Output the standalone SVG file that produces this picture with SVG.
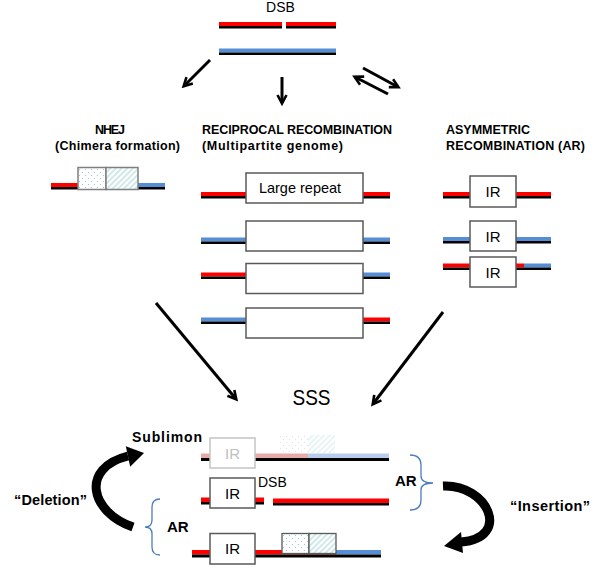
<svg xmlns="http://www.w3.org/2000/svg" width="600" height="574" viewBox="0 0 600 574">
<style>
.r{fill:#ff0000}.b{fill:#558ed5}.k{fill:#000}
.pr{fill:#e8a9a9}.pb{fill:#b8cdec}
.box{fill:#fff;stroke:#595959;stroke-width:1.5}
.h{font-family:"Liberation Sans",Arial,sans-serif;font-weight:bold;font-size:12.5px;fill:#000}
.t{font-family:"Liberation Sans",Arial,sans-serif;fill:#000}
.ir{font-family:"Liberation Sans",Arial,sans-serif;font-size:15px;fill:#000;text-anchor:middle}
.bl{font-family:"Liberation Sans",Arial,sans-serif;font-weight:bold;fill:#000}
.arr{fill:none;stroke:#000;stroke-width:3;marker-end:url(#ah)}
.brk{fill:none;stroke:#4a7ebb;stroke-width:1.3}
</style>
<defs>
<marker id="ah" viewBox="0 0 12 12" refX="9" refY="6" markerWidth="12" markerHeight="12" orient="auto" markerUnits="userSpaceOnUse">
<path d="M1,1.5 L9.5,6 L1,10.5" fill="none" stroke="#000" stroke-width="2.6"/>
</marker>
<pattern id="dots" width="6" height="6" patternUnits="userSpaceOnUse">
<rect width="6" height="6" fill="#fff"/>
<circle cx="1.5" cy="1.5" r="0.6" fill="#8fc4c8"/>
<circle cx="4.5" cy="4.5" r="0.6" fill="#8fc4c8"/>
</pattern>
<pattern id="hatch" width="4" height="4" patternUnits="userSpaceOnUse" patternTransform="rotate(45)">
<rect width="4" height="4" fill="#fff"/>
<line x1="1" y1="0" x2="1" y2="4" stroke="#9fd2d4" stroke-width="1"/>
</pattern>
</defs>
<rect width="600" height="574" fill="#fff"/>

<g id="dsb-top">
<text class="t" x="280.5" y="12" text-anchor="middle" font-size="14">DSB</text>
<rect class="r" x="219" y="22" width="63" height="4"/><rect class="k" x="219" y="26" width="63" height="2.5"/>
<rect class="r" x="286" y="22" width="50" height="4"/><rect class="k" x="286" y="26" width="50" height="2.5"/>
<rect class="b" x="219" y="48.5" width="117" height="4"/><rect class="k" x="219" y="52.5" width="117" height="2.5"/>
</g>

<g id="nhej">
<text class="h" x="110" y="134" text-anchor="middle" textLength="30">NHEJ</text>
<text class="h" x="117.5" y="150" text-anchor="middle" textLength="125">(Chimera formation)</text>
<rect class="r" x="51" y="183" width="27" height="4"/>
<rect class="b" x="138" y="183" width="27" height="4"/>
<rect class="k" x="51" y="187" width="114" height="2.5"/>
<rect x="78" y="167.5" width="28" height="22" fill="url(#dots)" stroke="#7f7f7f" stroke-width="1.5"/>
<rect x="106" y="167.5" width="32" height="22" fill="url(#hatch)" stroke="#7f7f7f" stroke-width="1.5"/>
</g>

<g id="reciprocal">
<text class="h" x="202" y="134" textLength="190">RECIPROCAL RECOMBINATION</text>
<text class="h" x="202" y="150" textLength="141">(Multipartite genome)</text>
<rect class="r" x="201" y="192" width="45" height="4"/><rect class="r" x="363" y="192" width="27" height="4"/>
<rect class="k" x="201" y="196" width="189" height="2.5"/>
<rect class="box" x="246" y="173" width="117" height="30"/>
<text class="t" x="300" y="193" text-anchor="middle" font-size="14.5">Large repeat</text>

<rect class="b" x="201" y="237.5" width="45" height="4"/><rect class="b" x="363" y="237.5" width="27" height="4"/>
<rect class="k" x="201" y="241.5" width="189" height="2.5"/>
<rect class="box" x="246" y="221" width="117" height="30"/>

<rect class="r" x="201" y="272.5" width="45" height="4"/><rect class="b" x="363" y="272.5" width="27" height="4"/>
<rect class="k" x="201" y="276.5" width="189" height="2.5"/>
<rect class="box" x="246" y="263.5" width="117" height="30"/>

<rect class="b" x="201" y="317.5" width="45" height="4"/><rect class="r" x="363" y="317.5" width="27" height="4"/>
<rect class="k" x="201" y="321.5" width="189" height="2.5"/>
<rect class="box" x="246" y="308" width="117" height="30"/>
</g>

<g id="asymmetric">
<text class="h" x="446" y="134" textLength="84">ASYMMETRIC</text>
<text class="h" x="446" y="150" textLength="139">RECOMBINATION (AR)</text>
<rect class="r" x="443" y="192" width="27" height="4"/><rect class="r" x="516" y="192" width="35" height="4"/>
<rect class="k" x="443" y="196" width="108" height="2.5"/>
<rect class="box" x="470" y="176" width="46" height="31"/>
<text class="ir" x="493" y="197">IR</text>

<rect class="b" x="443" y="237" width="27" height="4"/><rect class="b" x="516" y="237" width="35" height="4"/>
<rect class="k" x="443" y="241" width="108" height="2.5"/>
<rect class="box" x="470" y="221" width="46" height="30"/>
<text class="ir" x="493" y="242">IR</text>

<rect class="r" x="443" y="263.5" width="27" height="4"/><rect class="r" x="516" y="263.5" width="8" height="4"/><rect class="b" x="524" y="263.5" width="27" height="4"/>
<rect class="k" x="443" y="267.5" width="108" height="2.5"/>
<rect class="box" x="470" y="257" width="46" height="30"/>
<text class="ir" x="493" y="278">IR</text>
</g>

<g id="sss">
<text class="t" x="311.5" y="405" text-anchor="middle" font-size="22" textLength="38" lengthAdjust="spacingAndGlyphs">SSS</text>
</g>

<g id="sublimon">
<text class="bl" x="132" y="442" font-size="14" textLength="70">Sublimon</text>
<rect class="pr" x="201" y="453.5" width="107" height="4.5"/><rect class="pb" x="308" y="453.5" width="81" height="4.5"/>
<rect class="k" x="201" y="458" width="188" height="3"/>
<rect x="210" y="438" width="45" height="30" fill="#fff" stroke="#c4c4c4" stroke-width="1.5"/>
<text class="ir" x="232.5" y="459" style="fill:#bfbfbf">IR</text>
<g opacity="0.45">
<rect x="278" y="435" width="30" height="18" fill="url(#dots)"/>
<rect x="308" y="435" width="27" height="18" fill="url(#hatch)"/>
</g>
</g>

<g id="dsb-strand">
<rect class="r" x="201" y="497.5" width="63" height="4.5"/><rect class="k" x="201" y="502" width="63" height="2.5"/>
<rect class="r" x="273" y="498.5" width="116" height="4.5"/><rect class="k" x="273" y="503" width="116" height="2.5"/>
<rect class="box" x="210" y="478" width="45" height="30"/>
<text class="ir" x="232.5" y="499">IR</text>
<text class="t" x="258" y="487" font-size="14">DSB</text>
</g>

<g id="inserted-strand">
<rect class="r" x="192" y="550" width="144" height="4.5"/><rect class="b" x="336" y="550" width="45" height="4.5"/>
<rect class="k" x="192" y="554.5" width="189" height="3"/>
<rect class="box" x="210" y="533.5" width="45" height="30.5"/>
<text class="ir" x="232.5" y="554">IR</text>
<rect x="282" y="533.5" width="27" height="20" fill="url(#dots)" stroke="#595959" stroke-width="1.3"/>
<rect x="309" y="533.5" width="27" height="20" fill="url(#hatch)" stroke="#595959" stroke-width="1.3"/>
</g>

<g id="labels">
<text class="bl" x="14" y="505" font-size="14.5" textLength="73">“Deletion”</text>
<text class="bl" x="510" y="511" font-size="14.5" textLength="80">“Insertion”</text>
<text class="bl" x="395" y="486" font-size="15">AR</text>
<text class="bl" x="167" y="532" font-size="15">AR</text>
</g>

<g id="connectors">
<line class="arr" x1="210" y1="60" x2="184" y2="86"/>
<line class="arr" x1="282" y1="77" x2="282" y2="103"/>
<line class="arr" x1="363" y1="68" x2="398" y2="87"/>
<line class="arr" x1="388" y1="94" x2="355" y2="77"/>
<line class="arr" x1="156" y1="303" x2="236" y2="399"/>
<line class="arr" x1="443" y1="312" x2="373" y2="404"/>
<path d="M133,527 C90,512 80,468 128,456" fill="none" stroke="#000" stroke-width="9"/>
<polygon points="144,453 125.8,446.3 130.2,466.7" fill="#000"/>
<path d="M443,486 C488,484 512,538 461,542" fill="none" stroke="#000" stroke-width="9"/>
<polygon points="444,546 461,532 463,553" fill="#000"/>
<path class="brk" d="M410,455 Q421,455 421,465 L421,476 Q421,483 433,483 Q421,483 421,490 L421,500 Q421,510 410,510"/>
<path class="brk" d="M160,499 Q152,499 152,507 L152,520 Q152,527 145,527 Q152,527 152,534 L152,547 Q152,555 160,555"/>
</g>
</svg>
